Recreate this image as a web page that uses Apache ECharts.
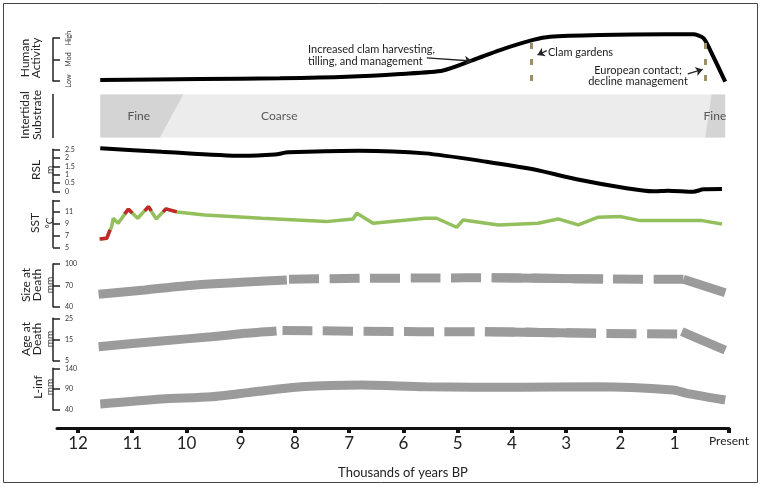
<!DOCTYPE html>
<html>
<head>
<meta charset="utf-8">
<script src="https://cdn.jsdelivr.net/npm/echarts@6/dist/echarts.min.js"></script>
<style>
html, body { margin: 0; padding: 0; background: #fff; }
#chart { width: 762px; height: 487px; }
</style>
</head>
<body>
<div id="chart"></div>
<script>
// x values are thousands of years BP (0 = present)
var yearTicks = [12, 11, 10, 9, 8, 7, 6, 5, 4, 3, 2, 1, 0];

// Human activity: 0 = Low, 1 = Mod, 2 = High
var humanLevels = ["Low", "Mod", "High"];
var humanActivity = [[11.59, 0.05], [9.75, 0.09], [8.28, 0.13], [7.05, 0.2], [6.06, 0.33], [5.27, 0.49],
  [4.71, 0.98], [4.22, 1.44], [3.61, 1.91], [3.30, 2.06], [2.38, 2.14], [1.15, 2.17], [0.66, 2.17],
  [0.47, 1.99], [0.32, 1.29], [0.07, -0.03]];
var eventYears = [3.64, 0.44];
var arrowLines = [
  [[5.57, 1.08], [4.74, 0.93]],
  [[3.36, 1.41], [3.53, 1.21]],
  [[0.76, 0.33], [0.485, 0.54]]
];

// Intertidal substrate
var coarseBand = [[11.59, 0.07]];
// [top from, top to, bottom from, bottom to]
var fineZones = [[11.59, 10.06, 11.59, 10.49], [0.32, 0.07, 0.44, 0.07]];
var substrateNames = ["Fine", "Coarse", "Fine"];
var substrateSpots = [[10.88, 0.5], [8.29, 0.5], [0.26, 0.5]];

// Relative sea level (m)
var rsl = [[11.59, 2.56], [10.46, 2.36], [8.98, 2.12], [8.37, 2.20], [8.12, 2.32], [6.83, 2.42],
  [5.60, 2.26], [4.47, 1.77], [3.61, 1.32], [2.81, 0.73], [1.89, 0.20], [1.40, 0.02], [1.12, 0.06],
  [0.66, 0.0], [0.47, 0.14], [0.13, 0.16]];

// Sea surface temperature (deg C)
var sst = [[11.60, 6.42], [11.47, 6.54], [11.38, 8.53], [11.35, 9.97], [11.26, 9.12], [11.07, 11.52],
  [10.90, 9.97], [10.70, 11.96], [10.56, 9.85], [10.38, 11.57], [10.18, 11.05], [9.66, 10.54],
  [8.61, 9.97], [7.42, 9.39], [6.93, 9.85], [6.86, 10.83], [6.56, 9.12], [5.60, 9.97], [5.39, 9.97],
  [5.02, 8.43], [4.90, 9.68], [4.25, 8.83], [3.52, 9.12], [3.15, 9.85], [2.78, 8.83], [2.41, 10.15],
  [2.01, 10.25], [1.64, 9.56], [0.50, 9.56], [0.13, 9.0]];
var sstWarm = [
  [[11.60, 6.42], [11.47, 6.54], [11.41, 7.97]],
  [[11.14, 10.71], [11.07, 11.52], [11.0, 10.88]],
  [[10.77, 11.23], [10.70, 11.96], [10.65, 11.23]],
  [[10.43, 11.05], [10.38, 11.57], [10.18, 11.05]]
];

// Size at death (mm)
var sizeSolid = [
  [[11.62, 57.4], [10.77, 63.5], [9.84, 70.5], [8.15, 77.5]],
  [[4.37, 80.7], [2.32, 78.9]],
  [[0.84, 78.5], [0.07, 59.7]]
];
var sizeDashed = [[8.11, 78.5], [6.80, 79.9], [5.33, 80.3], [4.37, 80.7], [2.32, 78.9], [0.84, 78.5]];

// Age at death
var ageSolid = [
  [[11.62, 11.6], [10.46, 14.3], [9.54, 16.3], [8.92, 17.9], [8.34, 19.0]],
  [[4.50, 18.7], [2.45, 17.9]],
  [[0.87, 18.7], [0.07, 10.0]]
];
var ageDashed = [[8.23, 19.3], [5.70, 18.7], [4.50, 18.7], [2.45, 17.9], [0.95, 17.6]];

// L-inf (mm)
var lInf = [[11.59, 54.4], [10.46, 66.4], [9.54, 71.9], [8.74, 83.9], [7.88, 95.9], [6.77, 100],
  [5.60, 95.9], [3.85, 94.4], [2.44, 95.9], [1.03, 88.0], [0.78, 80.0], [0.07, 64.0]];

// rotated panel titles: text, centre x, centre y, font size
var panelTitles = [
  ["Human", 25.5, 58, 12], ["Activity", 36.5, 58, 12],
  ["Intertidal", 25.5, 115, 12], ["Substrate", 37, 115, 12],
  ["RSL", 36, 170, 12], ["m", 50, 170, 10],
  ["SST", 35.5, 223, 12], ["°C", 50, 223, 10],
  ["Size at", 26, 285, 12], ["Death", 37.5, 285, 12], ["mm", 49.5, 285, 10],
  ["Age at", 26, 339, 12], ["Death", 37.5, 339, 12], ["mm", 49.5, 339, 10],
  ["L-inf", 38.5, 387, 12], ["mm", 50, 387, 10]
];

var FONT = "Lato, 'Open Sans', sans-serif";
var INK = "#222";
var GREY = "#9b9b9b";
var X_MAX = 12.387;

var panels = [
  { top: 38, height: 43 },
  { top: 94.5, height: 43 },
  { top: 149.3, height: 42.4 },
  { top: 200.5, height: 46.8 },
  { top: 264, height: 42.7 },
  { top: 318.3, height: 42.4 },
  { top: 368.3, height: 41.7 }
];

function yAxisFor(i, min, max, interval, extra) {
  var ax = {
    gridIndex: i, type: "value", position: "left", min: min, max: max, interval: interval, offset: 4,
    axisLine: { show: true, onZero: false, lineStyle: { color: INK, width: 1.5 } },
    axisTick: { show: true, inside: true, length: 7, lineStyle: { color: INK, width: 1.5 } },
    axisLabel: { show: true, inside: true, margin: 12, fontSize: 7, color: "#333", fontFamily: FONT },
    splitLine: { show: false }
  };
  if (extra) {
    Object.keys(extra).forEach(function (k) {
      var v = extra[k];
      ax[k] = (v && typeof v === "object") ? Object.assign({}, ax[k], v) : v;
    });
  }
  return ax;
}

var grids = panels.map(function (p) { return { left: 57, right: 33, top: p.top, height: p.height }; });

var xAxes = panels.map(function (p, i) {
  return { gridIndex: i, type: "value", min: 0, max: X_MAX, inverse: true, show: false };
});
xAxes[6] = {
  gridIndex: 6, type: "value", min: 0, max: X_MAX, inverse: true, position: "bottom", offset: 18,
  axisLine: { show: true, onZero: false, lineStyle: { color: "#111", width: 3 } },
  axisTick: { show: true, customValues: yearTicks, length: 5, lineStyle: { color: "#111", width: 4 } },
  axisLabel: {
    show: true, customValues: yearTicks, margin: 7, fontSize: 17, color: INK, fontFamily: FONT,
    formatter: function (v) { return v === 0 ? "{p|Present}" : String(v); },
    rich: { p: { fontSize: 12, fontFamily: FONT, color: INK } }
  },
  splitLine: { show: false },
  name: "Thousands of years BP", nameLocation: "middle", nameGap: 38,
  nameTextStyle: { fontSize: 13, color: INK, fontFamily: FONT, padding: [0, 0, 0, 20] }
};

var yAxes = [
  yAxisFor(0, 0, 2, 1, {
    axisLabel: { rotate: 90, margin: 12, formatter: function (v) { return humanLevels[v]; } }
  }),
  yAxisFor(1, 0, 1, 1, { axisTick: { show: false }, axisLabel: { show: false } }),
  yAxisFor(2, 0, 2.5, 0.5),
  yAxisFor(3, 5, 13, 2, {
    axisLabel: { formatter: function (v) { return v === 13 ? "" : String(v); } }
  }),
  yAxisFor(4, 40, 100, 30),
  yAxisFor(5, 5, 25, 10),
  yAxisFor(6, 40, 140, 50)
];

function lineSeries(i, data, color, width, type, smooth) {
  return {
    type: "line", xAxisIndex: i, yAxisIndex: i, data: data, showSymbol: false, clip: false,
    smooth: smooth === undefined ? 0.25 : smooth, animation: false, silent: true,
    lineStyle: { color: color, width: width, type: type || "solid", cap: "butt" }
  };
}

var markData = eventYears.map(function (x) {
  return { xAxis: x, lineStyle: { color: "#9b9166", width: 3, type: [6, 10] } };
});
arrowLines.forEach(function (a) {
  markData.push([
    { coord: a[0], symbol: "none", lineStyle: { color: INK, width: 1.3, type: "solid" } },
    { coord: a[1], symbol: "arrow", symbolSize: 7 }
  ]);
});

var series = [];
var human = lineSeries(0, humanActivity, "#000", 4);
human.markLine = { silent: true, animation: false, symbol: ["none", "none"], label: { show: false }, data: markData };
series.push(human);

series.push({
  type: "custom", xAxisIndex: 1, yAxisIndex: 1, data: coarseBand, silent: true, animation: false,
  renderItem: function (params, api) {
    var a = api.coord([api.value(0), 1]);
    var b = api.coord([api.value(1), 0]);
    return { type: "rect", shape: { x: a[0], y: a[1], width: b[0] - a[0], height: b[1] - a[1] }, style: { fill: "#ececec" } };
  }
});
series.push({
  type: "custom", xAxisIndex: 1, yAxisIndex: 1, data: fineZones, silent: true, animation: false,
  renderItem: function (params, api) {
    var pts = [api.coord([api.value(0), 1]), api.coord([api.value(1), 1]),
      api.coord([api.value(3), 0]), api.coord([api.value(2), 0])];
    return { type: "polygon", shape: { points: pts }, style: { fill: "#d4d4d4" } };
  }
});
series.push({
  type: "scatter", xAxisIndex: 1, yAxisIndex: 1, data: substrateSpots, symbolSize: 0, silent: true, animation: false,
  label: {
    show: true, position: "inside", fontSize: 12, color: "#333", fontFamily: FONT,
    formatter: function (p) { return substrateNames[p.dataIndex]; }
  }
});

series.push(lineSeries(2, rsl, "#000", 4));
series.push(lineSeries(3, sst, "#93c05c", 3.5, "solid", false));
sstWarm.forEach(function (seg) { series.push(lineSeries(3, seg, "#c1272d", 3.5, "solid", false)); });

sizeSolid.forEach(function (seg) { series.push(lineSeries(4, seg, GREY, 9)); });
series.push(lineSeries(4, sizeDashed, GREY, 9, [30, 10.5]));
ageSolid.forEach(function (seg) { series.push(lineSeries(5, seg, GREY, 9)); });
series.push(lineSeries(5, ageDashed, GREY, 9, [30, 10.5]));
series.push(lineSeries(6, lInf, GREY, 9));

var graphics = [
  { type: "rect", shape: { x: 3.5, y: 3.5, width: 754, height: 479 }, style: { fill: null, stroke: "#444", lineWidth: 1 }, silent: true },
  { type: "text", x: 308, y: 44, style: { text: "Increased clam harvesting,\ntilling, and management", font: "11px " + FONT, fill: INK, lineHeight: 11.5 }, silent: true },
  { type: "text", x: 548, y: 47, style: { text: "Clam gardens", font: "11px " + FONT, fill: INK }, silent: true },
  { type: "text", x: 638, y: 64.8, style: { text: "European contact;\ndecline management", font: "11px " + FONT, fill: INK, align: "center", lineHeight: 10.8 }, silent: true }
];
panelTitles.forEach(function (t) {
  graphics.push({
    type: "text", x: t[1], y: t[2], rotation: Math.PI / 2, silent: true,
    style: { text: t[0], font: t[3] + "px " + FONT, fill: INK, align: "center", verticalAlign: "middle" }
  });
});

var chart = echarts.init(document.getElementById("chart"));
chart.setOption({
  animation: false,
  backgroundColor: "#fff",
  textStyle: { fontFamily: FONT },
  grid: grids,
  xAxis: xAxes,
  yAxis: yAxes,
  series: series,
  graphic: graphics
});
</script>
</body>
</html>
